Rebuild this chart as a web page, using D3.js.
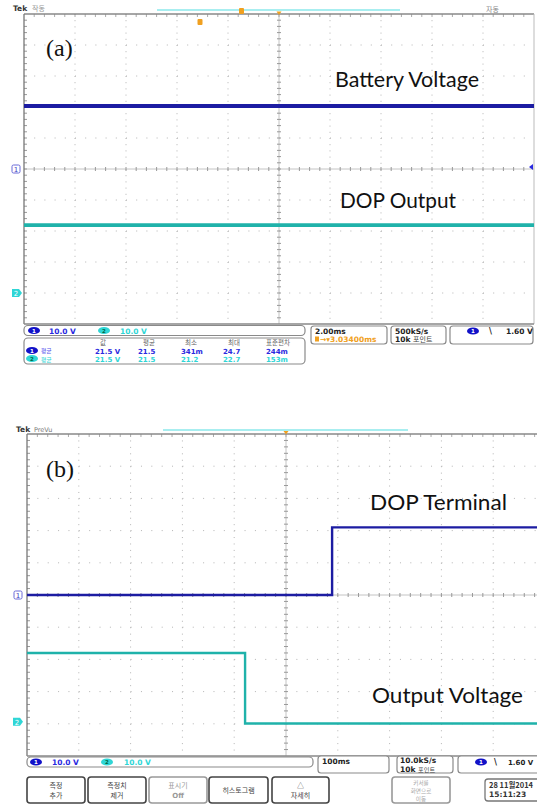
<!DOCTYPE html>
<html><head><meta charset="utf-8">
<script src="https://cdn.jsdelivr.net/npm/d3@7"></script>
<style>body{margin:0;background:#fff}svg{display:block}</style></head>
<body>
<script>
// ---------------- DATA ----------------
// Panel (a): 2.00 ms/div, 10 divisions
const timeA = [0, 20];                 // ms
const batteryVoltage = [20.3, 20.3];   // V (ch1)
const dopOutputA = [21.9, 21.9];       // V (ch2)
// Panel (b): 100 ms/div, 10 divisions
const timeTerminal = [0, 589, 589, 1000];   // ms
const dopTerminal = [0, 0, 21, 21];         // V (ch1)
const timeOutput = [0, 421, 421, 1000];     // ms
const outputVoltage = [22, 22, 0.1, 0.1];   // V (ch2)

const voltsPerDiv = 10;
const ch1OffsetDiv = 0, ch2OffsetDiv = -4;

const measHeaders = ["값", "평균", "최소", "최대", "표준편차"];
const meas1 = ["21.5 V", "21.5", "341m", "24.7", "244m"];
const meas2 = ["21.5 V", "21.5", "21.2", "22.7", "153m"];
const buttonLabels = [["측정", "추가"], ["측정치", "제거"], ["표시기", "Off"], ["히스토그램"], ["△", "자세히"]];

// ---------------- DRAW ----------------
const W = 537, H = 806;
const svg = d3.select("body").append("svg").attr("width", W).attr("height", H);
svg.append("rect").attr("width", W).attr("height", H).attr("fill", "#fff");

const C1 = "#1c1ca2", C2 = "#1fb2aa", UI1 = "#2a2ae0", UI2 = "#2fd6d6", ORANGE = "#f0a020";
const UIF = "DejaVu Sans, sans-serif", KF = "'Noto Sans CJK KR', sans-serif";

function grid(g, x0, y0, w, h) {
  const dx = w / 10, dy = h / 10;
  for (let i = 1; i < 10; i++) {
    if (i === 5) continue;
    g.append("line").attr("x1", x0 + i * dx).attr("x2", x0 + i * dx).attr("y1", y0).attr("y2", y0 + h)
      .attr("stroke", "#b4b4b4").attr("stroke-width", 1).attr("stroke-dasharray", `1 ${dy / 5 - 1}`);
    g.append("line").attr("y1", y0 + i * dy).attr("y2", y0 + i * dy).attr("x1", x0).attr("x2", x0 + w)
      .attr("stroke", "#b4b4b4").attr("stroke-width", 1).attr("stroke-dasharray", `1 ${dx / 5 - 1}`);
  }
  const cx = x0 + w / 2, cy = y0 + h / 2;
  g.append("line").attr("x1", cx).attr("x2", cx).attr("y1", y0).attr("y2", y0 + h).attr("stroke", "#c4c4c4");
  g.append("line").attr("x1", x0).attr("x2", x0 + w).attr("y1", cy).attr("y2", cy).attr("stroke", "#c4c4c4");
  for (let k = 1; k < 50; k++) {
    g.append("line").attr("x1", cx - 2).attr("x2", cx + 2).attr("y1", y0 + k * dy / 5).attr("y2", y0 + k * dy / 5).attr("stroke", "#999");
    g.append("line").attr("y1", cy - 2).attr("y2", cy + 2).attr("x1", x0 + k * dx / 5).attr("x2", x0 + k * dx / 5).attr("stroke", "#999");
    g.append("line").attr("x1", x0).attr("x2", x0 + 3).attr("y1", y0 + k * dy / 5).attr("y2", y0 + k * dy / 5).attr("stroke", "#999");
    g.append("line").attr("y1", y0).attr("y2", y0 + 3).attr("x1", x0 + k * dx / 5).attr("x2", x0 + k * dx / 5).attr("stroke", "#aaa");
  }
  g.append("line").attr("x1", x0).attr("x2", x0 + w).attr("y1", y0).attr("y2", y0).attr("stroke", "#888").attr("stroke-width", 1.3);
  g.append("line").attr("x1", x0).attr("x2", x0).attr("y1", y0).attr("y2", y0 + h).attr("stroke", "#777").attr("stroke-width", 1.3);
  g.append("line").attr("x1", x0 + w).attr("x2", x0 + w).attr("y1", y0).attr("y2", y0 + h).attr("stroke", "#bbb");
  g.append("line").attr("x1", x0).attr("x2", x0 + w).attr("y1", y0 + h).attr("y2", y0 + h).attr("stroke", "#888").attr("stroke-width", 1.3);
}

function chMarker(g, x, y, n) {
  if (n === 1) {
    g.append("rect").attr("x", x).attr("y", y - 4).attr("width", 8).attr("height", 8).attr("rx", 1.5)
      .attr("fill", "#fff").attr("stroke", "#6a6ad8").attr("stroke-width", 1);
    g.append("text").attr("x", x + 4).attr("y", y + 3).attr("text-anchor", "middle").attr("font-family", UIF)
      .attr("font-size", 7).attr("fill", "#4040c0").text("1");
  } else {
    g.append("path").attr("d", `M${x},${y - 4}h7l3,4l-3,4h-7z`).attr("fill", UI2);
    g.append("text").attr("x", x + 4).attr("y", y + 3).attr("text-anchor", "middle").attr("font-family", UIF)
      .attr("font-size", 7).attr("fill", "#fff").text("2");
  }
}

function ellipseTag(g, cx, cy, n, fill, tcol) {
  g.append("ellipse").attr("cx", cx).attr("cy", cy).attr("rx", 6).attr("ry", 3.6).attr("fill", fill);
  g.append("text").attr("x", cx).attr("y", cy + 2.1).attr("text-anchor", "middle").attr("font-family", UIF)
    .attr("font-size", 5.5).attr("font-weight", "bold").attr("fill", tcol).text(n);
}

function txt(g, x, y, s, size, fill, opts = {}) {
  return g.append("text").attr("x", x).attr("y", y).attr("font-family", opts.font || UIF).attr("font-size", size)
    .attr("font-weight", opts.weight || "bold").attr("fill", fill).attr("text-anchor", opts.anchor || "start").text(s);
}

function box(g, x, y, w, h, stroke = "#8a8a8a", sw = 1.2, rx = 3) {
  g.append("rect").attr("x", x).attr("y", y).attr("width", w).attr("height", h).attr("rx", rx)
    .attr("fill", "#fff").attr("stroke", stroke).attr("stroke-width", sw);
}

function trace(g, xs, ys, tArr, vArr, offsetDiv, color, sw) {
  const pts = tArr.map((t, i) => [xs(t), ys(vArr[i] / voltsPerDiv + offsetDiv)]);
  g.append("path").attr("d", d3.line()(pts)).attr("fill", "none").attr("stroke", color)
    .attr("stroke-width", sw).attr("stroke-linejoin", "miter");
}

function label(g, x, y, s, w, size) {
  g.append("text").attr("x", x).attr("y", y).attr("font-family", "Lato, 'Open Sans', sans-serif")
    .attr("font-size", size).attr("fill", "#111").attr("textLength", w).attr("lengthAdjust", "spacingAndGlyphs").text(s);
}

// ============ PANEL (a) ============
{
  const g = svg.append("g");
  const x0 = 24, y0 = 14, w = 510, h = 310;
  const xs = d3.scaleLinear().domain([0, 20]).range([x0, x0 + w]);
  const ys = d3.scaleLinear().domain([-5, 5]).range([y0 + h, y0]);
  txt(g, 13, 11, "Tek", 7.5, "#333");
  txt(g, 32, 11, "작동", 7, "#999", { font: KF, weight: "normal" });
  g.append("line").attr("x1", 157).attr("x2", 400).attr("y1", 10).attr("y2", 10).attr("stroke", "#a8eef0").attr("stroke-width", 2);
  txt(g, 486, 12, "자동", 7, "#888", { font: KF, weight: "normal" });
  grid(g, x0, y0, w, h);
  g.append("rect").attr("x", 239).attr("y", 8).attr("width", 5).attr("height", 6).attr("rx", 1).attr("fill", ORANGE);
  g.append("rect").attr("x", 197.5).attr("y", 19).attr("width", 5).attr("height", 6).attr("rx", 1).attr("fill", ORANGE);
  g.append("path").attr("d", "M276.5,11.5h5l-2.5,3.5z").attr("fill", ORANGE);
  g.append("path").attr("d", `M533,164l-4,3l4,3z`).attr("fill", "#2a2ae0");
  chMarker(g, 12, ys(ch1OffsetDiv), 1);
  chMarker(g, 12, ys(ch2OffsetDiv), 2);
  trace(g, xs, ys, timeA, batteryVoltage, ch1OffsetDiv, C1, 4);
  trace(g, xs, ys, timeA, dopOutputA, ch2OffsetDiv, C2, 3.6);
  g.append("text").attr("x", 46).attr("y", 56).attr("font-family", "Liberation Serif, serif").attr("font-size", 24).attr("fill", "#111").text("(a)");
  label(g, 335, 87, "Battery Voltage", 144, 21);
  label(g, 340, 208, "DOP Output", 116, 21);
  box(g, 24, 325.5, 281, 10, "#8a8a8a", 1.2, 4);
  ellipseTag(g, 34, 330.5, "1", "#1212c8", "#fff");
  txt(g, 49, 333.5, "10.0 V", 7.5, UI1);
  ellipseTag(g, 104, 330.5, "2", UI2, "#064");
  txt(g, 120, 333.5, "10.0 V", 7.5, UI2);
  box(g, 24, 338, 281, 26, "#8a8a8a", 1.2, 4);
  const colX = [100, 143, 185, 228, 266];
  const valX = [95, 138, 181, 223, 266];
  measHeaders.forEach((s, i) => txt(g, colX[i], 344.5, s, 6.5, "#666", { font: KF, weight: "normal" }));
  ellipseTag(g, 32, 350.5, "1", "#1212c8", "#fff");
  txt(g, 41, 353, "평균", 5.8, "#5555ee", { font: KF, weight: "normal" });
  meas1.forEach((s, i) => txt(g, valX[i], 353.5, s, 7, UI1));
  ellipseTag(g, 32, 358.5, "2", UI2, "#064");
  txt(g, 41, 361.5, "평균", 5.8, UI2, { font: KF, weight: "normal" });
  meas2.forEach((s, i) => txt(g, valX[i], 361.5, s, 7, UI2));
  box(g, 311, 326, 76, 18);
  txt(g, 315, 333.5, "2.00ms", 7.5, "#222");
  g.append("rect").attr("x", 315).attr("y", 336.5).attr("width", 4).attr("height", 5).attr("fill", ORANGE);
  txt(g, 320, 342, "→▾3.03400ms", 7.5, ORANGE);
  box(g, 391, 326, 55, 18);
  txt(g, 395, 333.5, "500kS/s", 7.5, "#222");
  txt(g, 395, 342, "10k", 7.5, "#222");
  txt(g, 413, 342, "포인트", 7, "#444", { font: KF, weight: "normal" });
  box(g, 450, 326, 83, 18);
  ellipseTag(g, 473, 331, "1", "#1212c8", "#fff");
  txt(g, 489, 334, "\\", 8, "#222");
  txt(g, 506, 334, "1.60 V", 7.5, "#222");
}

// ============ PANEL (b) ============
{
  const g = svg.append("g");
  const x0 = 27, y0 = 434, w = 518, h = 322;
  const xs = d3.scaleLinear().domain([0, 1000]).range([x0, x0 + w]);
  const ys = d3.scaleLinear().domain([-5, 5]).range([y0 + h, y0]);
  txt(g, 16, 432, "Tek", 7.5, "#333");
  txt(g, 34, 432, "PreVu", 6.5, "#777", { weight: "normal" });
  g.append("line").attr("x1", 163).attr("x2", 408).attr("y1", 430).attr("y2", 430).attr("stroke", "#a8eef0").attr("stroke-width", 2);
  grid(g, x0, y0, w, h);
  g.append("path").attr("d", "M283.5,431h5l-2.5,3.5z").attr("fill", ORANGE);
  chMarker(g, 14, ys(ch1OffsetDiv), 1);
  chMarker(g, 13, ys(ch2OffsetDiv) - 2, 2);
  trace(g, xs, ys, timeTerminal, dopTerminal, ch1OffsetDiv, C1, 2.4);
  trace(g, xs, ys, timeOutput, outputVoltage, ch2OffsetDiv, C2, 2.4);
  g.append("text").attr("x", 46).attr("y", 477).attr("font-family", "Liberation Serif, serif").attr("font-size", 24).attr("fill", "#111").text("(b)");
  label(g, 370, 510, "DOP Terminal", 137, 21);
  label(g, 372, 703, "Output Voltage", 151, 21);
  box(g, 27, 757, 286, 10, "#8a8a8a", 1.2, 4);
  ellipseTag(g, 36, 762, "1", "#1212c8", "#fff");
  txt(g, 52, 765, "10.0 V", 7.5, UI1);
  ellipseTag(g, 107, 762, "2", UI2, "#064");
  txt(g, 124, 765, "10.0 V", 7.5, UI2);
  box(g, 318, 756, 71, 17);
  txt(g, 322, 764, "100ms", 7.5, "#222");
  box(g, 397, 756, 56, 17);
  txt(g, 400, 763, "10.0kS/s", 7.5, "#222");
  txt(g, 400, 771.5, "10k", 7.5, "#222");
  txt(g, 418, 772, "포인트", 6.2, "#444", { font: KF, weight: "normal" });
  box(g, 458, 756, 85, 17);
  ellipseTag(g, 481, 762, "1", "#1212c8", "#fff");
  txt(g, 494, 765, "\\", 8, "#222");
  txt(g, 508, 765, "1.60 V", 7, "#222");
  const bx = [[27, 58], [88, 58], [149, 58], [209, 59], [272, 57]];
  buttonLabels.forEach((lines, i) => {
    const [x, bw] = bx[i];
    const grey = i === 2;
    box(g, x, 777, bw, 26, grey ? "#999" : "#444", 1.6, 3);
    const col = grey ? "#999" : "#444";
    const cy = 790;
    lines.forEach((s, j) => {
      const yy = cy + 3 + (j - (lines.length - 1) / 2) * 10;
      txt(g, x + bw / 2, yy, s, 7, col, { font: s === "Off" ? UIF : KF, weight: s === "Off" ? "bold" : "normal", anchor: "middle" });
    });
  });
  box(g, 392, 777, 58, 26, "#999", 1.6, 3);
  ["커서를", "화면으로", "이동"].forEach((s, j) => txt(g, 421, 784.5 + j * 8.4, s, 5.6, "#aaa", { font: KF, weight: "normal", anchor: "middle" }));
  box(g, 485, 779, 60, 22, "#777", 1.3, 3);
  txt(g, 489, 788, "28 11월2014", 7.5, "#333", { font: KF });
  txt(g, 489, 797, "15:11:23", 7.5, "#333");
}
</script>
</body></html>
